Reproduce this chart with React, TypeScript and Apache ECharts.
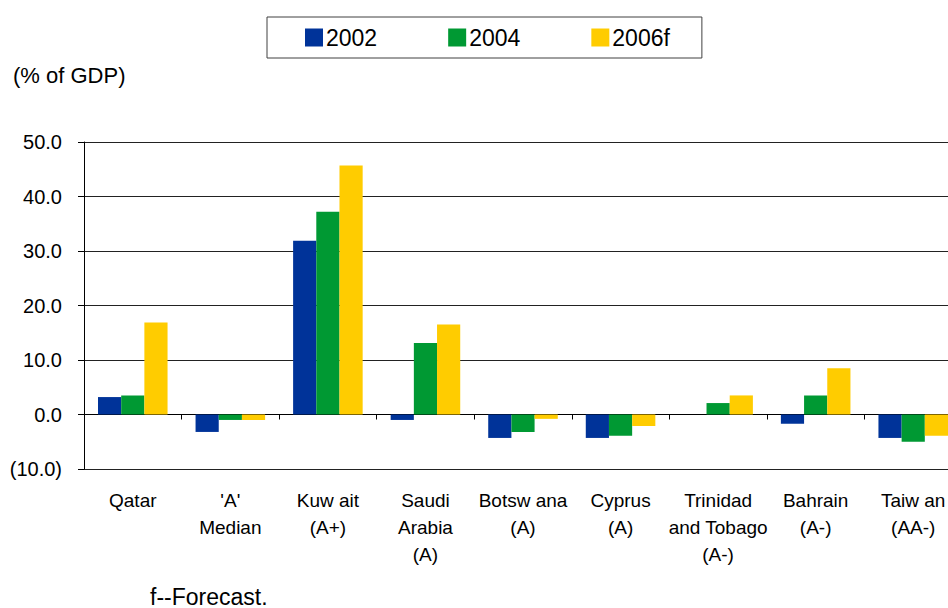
import React, { useEffect, useRef } from "react";
import * as echarts from "echarts";

const categories = [
  "Qatar",
  "'A'\nMedian",
  "Kuw ait\n(A+)",
  "Saudi\nArabia\n(A)",
  "Botsw ana\n(A)",
  "Cyprus\n(A)",
  "Trinidad\nand Tobago\n(A-)",
  "Bahrain\n(A-)",
  "Taiw an\n(AA-)",
];
const seriesNames = ["2002", "2004", "2006f"];
const values2002 = [3.2, -3.2, 31.9, -1.0, -4.3, -4.3, 0, -1.7, -4.3];
const values2004 = [3.5, -1.0, 37.2, 13.1, -3.2, -3.9, 2.1, 3.5, -5.0];
const values2006 = [16.9, -1.0, 45.7, 16.5, -0.8, -2.1, 3.5, 8.5, -3.9];
const colors = ["#003399", "#009933", "#FFCC00"];
const yMin = -10;
const yMax = 50;
const yInterval = 10;

const FONT = "'Liberation Sans', Arial, sans-serif";

export default function App() {
  const ref = useRef<HTMLDivElement>(null);
  useEffect(() => {
    if (!ref.current) return;
    const chart = echarts.init(ref.current, undefined, { renderer: "svg" });
    const data = [values2002, values2004, values2006];
    chart.setOption({
      animation: false,
      backgroundColor: "#ffffff",
      textStyle: { fontFamily: FONT, color: "#000" },
      legend: {
        left: 267,
        top: 17,
        orient: "horizontal",
        itemWidth: 18,
        itemHeight: 18,
        itemGap: 71,
        icon: "rect",
        borderColor: "#404040",
        borderWidth: 1,
        padding: [9, 32, 9, 38],
        textStyle: { fontFamily: FONT, fontSize: 23, color: "#000", padding: [0, 0, 0, -2] },
        data: seriesNames,
      },
      graphic: [
        {
          type: "text",
          left: 13,
          top: 64,
          style: { text: "(% of GDP)", fontFamily: FONT, fontSize: 22, fill: "#000" },
        },
        {
          type: "text",
          left: 150,
          top: 585,
          style: { text: "f--Forecast.", fontFamily: FONT, fontSize: 23, fill: "#000" },
        },
      ],
      grid: {
        left: 84,
        top: 142,
        width: 878,
        height: 327,
        containLabel: false,
        outerBoundsMode: "none",
      },
      xAxis: {
        type: "category",
        data: categories,
        axisLine: { show: true, onZero: true, lineStyle: { color: "#000", width: 1 } },
        axisTick: { show: true, length: 5, inside: false, lineStyle: { color: "#000" } },
        axisLabel: {
          interval: 0,
          margin: 18,
          fontFamily: FONT,
          fontSize: 19,
          lineHeight: 27,
          color: "#000",
          align: "center",
        },
        splitLine: { show: false },
      },
      yAxis: {
        type: "value",
        min: yMin,
        max: yMax,
        interval: yInterval,
        axisLine: { show: true, lineStyle: { color: "#000", width: 1 } },
        axisTick: { show: true, length: 6, lineStyle: { color: "#000" } },
        axisLabel: {
          margin: 22,
          fontFamily: FONT,
          fontSize: 20,
          color: "#000",
          formatter: (v: number) => (v < 0 ? `(${Math.abs(v).toFixed(1)})` : v.toFixed(1)),
        },
        splitLine: { show: true, lineStyle: { color: "#222", width: 1 } },
      },
      series: seriesNames.map((name, i) => ({
        name,
        type: "bar",
        data: data[i],
        barGap: "0%",
        barCategoryGap: "28.7%",
        itemStyle: { color: colors[i] },
      })),
    });
    return () => chart.dispose();
  }, []);
  return <div ref={ref} style={{ width: 948, height: 608, position: "absolute", left: 0, top: 0 }} />;
}
